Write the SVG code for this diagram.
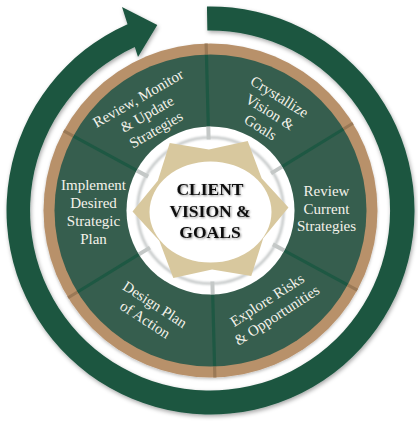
<svg xmlns="http://www.w3.org/2000/svg" xmlns:xlink="http://www.w3.org/1999/xlink" width="418" height="421" viewBox="0 0 418 421">
  <style>
    .seg { font-family: "Liberation Serif", "DejaVu Serif", serif; font-size: 15px; fill: #f4f2ea; text-anchor: middle; }
    .ctr { font-family: "Liberation Serif", "DejaVu Serif", serif; font-size: 17.5px; font-weight: bold; fill: #111; text-anchor: middle; }
    .gdiv { stroke: #1e5843; stroke-width: 3.2; }
    .tdiv { stroke: #9a7956; stroke-width: 3.2; }
    .wdiv { stroke: #c4c8c7; stroke-width: 4; }
  </style>
  <defs>
    <filter id="sh" x="-10%" y="-10%" width="120%" height="120%">
      <feDropShadow dx="1" dy="2" stdDeviation="2" flood-color="#000" flood-opacity="0.35"/>
    </filter>
    <filter id="sh2" x="-10%" y="-10%" width="120%" height="120%">
      <feDropShadow dx="0" dy="1.5" stdDeviation="1.5" flood-color="#000" flood-opacity="0.25"/>
    </filter>
    <filter id="tsh" x="-10%" y="-20%" width="120%" height="140%">
      <feDropShadow dx="1" dy="1" stdDeviation="0.8" flood-color="#000" flood-opacity="0.45"/>
    </filter>
    <filter id="blur" x="-10%" y="-10%" width="120%" height="120%">
      <feGaussianBlur stdDeviation="1.3"/>
    </filter>
    <g id="divider">
      <line class="gdiv" x1="0" y1="-84" x2="0" y2="-156"/>
      <line class="tdiv" x1="0" y1="-156" x2="0" y2="-167"/>
      <line class="wdiv" x1="0" y1="-71" x2="0" y2="-84"/>
    </g>
  </defs>

  <!-- outer cycle arrow -->
  <g id="cycle-arrow" transform="translate(210.5,210.5)" filter="url(#sh)">
    <path fill="#1d5641" d="M -3.56,-203.97 A 204 204 0 1 1 -82.97,-186.36 L -88.5,-203.5 L -53.2,-185.5 L -72.5,-153.5 L -75.7,-163.5 A 180 180 0 1 0 -3.14,-179.97 Z"/>
  </g>

  <!-- wheel -->
  <g id="wheel" transform="translate(210.5,210.5)">
    <circle r="167" fill="#b8916b" filter="url(#sh2)"/>
    <circle r="156" fill="#365e4e"/>
    <circle r="84" fill="#ffffff"/>
    <circle r="73" fill="none" stroke="#c2c6c6" stroke-width="2.5" filter="url(#blur)"/>
  </g>

  <!-- connectors: segment dividers -->
  <g id="dividers" transform="translate(210.5,210.5) rotate(-1.5)">
    <use xlink:href="#divider"/>
    <use xlink:href="#divider" transform="rotate(60)"/>
    <use xlink:href="#divider" transform="rotate(120)"/>
    <use xlink:href="#divider" transform="rotate(180)"/>
    <use xlink:href="#divider" transform="rotate(240)"/>
    <use xlink:href="#divider" transform="rotate(300)"/>
  </g>

  <!-- center node -->
  <g id="client-vision-goals">
    <polygon fill="#d8c89e" transform="translate(210.5,209.5)" points="77.97,-2.04 52.73,28.63 40.76,66.5 1.57,59.98 -37.22,68.55 -51.16,31.34 -77.97,2.04 -52.73,-28.63 -40.76,-66.5 -1.57,-59.98 37.22,-68.55 51.16,-31.34"/>
    <ellipse cx="210.5" cy="212" rx="61" ry="50.5" fill="#ffffff"/>
    <g filter="url(#tsh)">
      <text class="ctr" x="210" y="195">CLIENT</text>
      <text class="ctr" x="210" y="217">VISION &amp;</text>
      <text class="ctr" x="210" y="238">GOALS</text>
    </g>
  </g>

  <g id="crystallize-vision-goals" transform="translate(270,112) rotate(32)">
    <text class="seg" x="0" y="-13">Crystallize</text>
    <text class="seg" x="0" y="5">Vision &amp;</text>
    <text class="seg" x="0" y="23">Goals</text>
  </g>

  <g id="review-current-strategies">
    <text class="seg" x="326.5" y="196">Review</text>
    <text class="seg" x="326.5" y="213.5">Current</text>
    <text class="seg" x="326.5" y="231">Strategies</text>
  </g>

  <g id="explore-risks-opportunities" transform="translate(272,307.5) rotate(-33)">
    <text class="seg" x="0" y="-4">Explore Risks</text>
    <text class="seg" x="0" y="14">&amp; Opportunities</text>
  </g>

  <g id="design-plan-of-action" transform="translate(150,312) rotate(33)">
    <text class="seg" x="0" y="-4">Design Plan</text>
    <text class="seg" x="0" y="14">of Action</text>
  </g>

  <g id="implement-desired-strategic-plan">
    <text class="seg" x="93.5" y="190">Implement</text>
    <text class="seg" x="93.5" y="208">Desired</text>
    <text class="seg" x="93.5" y="226">Strategic</text>
    <text class="seg" x="93.5" y="243.5">Plan</text>
  </g>

  <g id="review-monitor-update-strategies" transform="translate(147,114) rotate(-30)">
    <text class="seg" x="0" y="-13">Review, Monitor</text>
    <text class="seg" x="0" y="5">&amp; Update</text>
    <text class="seg" x="0" y="23">Strategies</text>
  </g>
</svg>
